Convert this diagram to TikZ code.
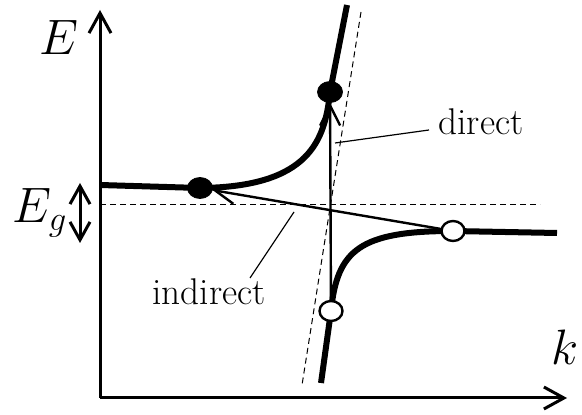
\documentclass[tikz,border=0pt]{standalone}
\usetikzlibrary{arrows.meta,shapes.geometric,calc}
\begin{document}
\begin{tikzpicture}[x=0.5pt,y=-0.5pt,
  axis/.style={line width=1.5pt,-{Straight Barb[length=10pt,width=11pt]}},
  band/.style={line width=3pt},
  trans/.style={line width=1.2pt,-{Straight Barb[length=10pt,width=10pt]}},
  leader/.style={line width=0.6pt},
  guide/.style={line width=0.5pt,dash pattern=on 3pt off 2pt},
  electron/.style={ellipse,fill=black,draw=black,minimum width=12.5pt,minimum height=10.5pt,inner sep=0pt},
  hole/.style={ellipse,fill=white,draw=black,line width=1.2pt,minimum width=11.5pt,minimum height=10pt,inner sep=0pt},
  txt/.style={font=\fontsize{18.6}{22}\selectfont,inner sep=0pt,anchor=base},
  mlab/.style={font=\fontsize{23}{27}\selectfont,inner sep=0pt,anchor=base}
]
\useasboundingbox (0,0) rectangle (582,415);
% positions
\coordinate (O) at (100,398);
\coordinate (Ytip) at (100,10);
\coordinate (Xtip) at (567,398);
\coordinate (pe1) at (200,188);
\coordinate (pe2) at (330,92);
\coordinate (ph1) at (453,231);
\coordinate (ph2) at (331,311);
% axes
\draw[axis] (O) -- (Ytip);
\draw[axis] (O) -- (Xtip);
% guide lines
\coordinate (gh1) at (100,205);
\coordinate (gh2) at (540,205);
\coordinate (gs1) at (361,12);
\coordinate (gs2) at (302,385);
\draw[guide] (gh1) -- (gh2);
\draw[guide] (gs1) -- (gs2);
% bands
\coordinate (cb0) at (100,185);
\coordinate (cb1) at (347,5);
\draw[band] (cb0) -- (pe1) .. controls (310,187) and (325,140) .. (pe2) -- (cb1);
\coordinate (vb0) at (557,233);
\coordinate (vb1) at (321,383);
\draw[band] (vb0) -- (ph1) .. controls (360,231) and (337,250) .. (ph2) -- (vb1);
% carriers
\node[electron] (e1) at (pe1) {};
\node[electron] (e2) at (pe2) {};
\node[hole] (h1) at (ph1) {};
\node[hole] (h2) at (ph2) {};
% transitions
\draw[trans] (h2) -- (e2);
\draw[trans] (h1) -- (e1);
% labels
\node[mlab] (lE) at (59,55) {$E$};
\node[mlab] (lk) at (565,365) {$k$};
\node[mlab] (lEg) at (40,223) {$E_g$};
\coordinate (ga) at (80,183);
\coordinate (gb) at (80,243);
\draw[line width=1.5pt,{Straight Barb[length=9pt,width=10pt]}-{Straight Barb[length=9pt,width=10pt]}] (ga) -- (gb);
\node[txt] (ldirect) at (481,135) {direct};
\node[txt] (lindirect) at (209,305) {indirect};
\coordinate (d1) at (335,143);
\coordinate (d2) at (429,130);
\draw[leader] (d1) -- (d2);
\coordinate (i1) at (250,278);
\coordinate (i2) at (294,212);
\draw[leader] (i1) -- (i2);
\end{tikzpicture}
\end{document}
